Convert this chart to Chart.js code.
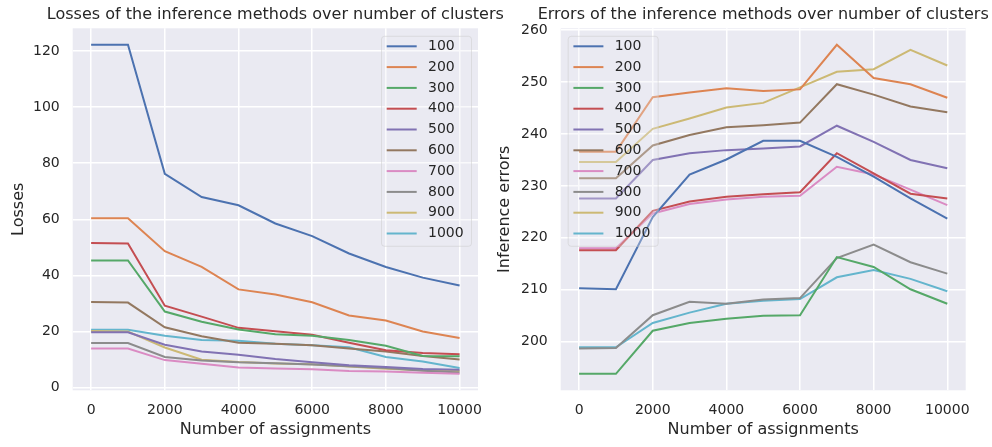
<!DOCTYPE html>
<html>
<head>
<meta charset="utf-8">
<title>Losses and errors over number of clusters</title>
<script src="https://cdn.jsdelivr.net/npm/chart.js@4.4.0/dist/chart.umd.min.js"></script>
<style>
    html, body { margin: 0; padding: 0; background: #ffffff; }
    #wrap { position: relative; width: 992px; height: 447px; overflow: hidden; }
    canvas { position: absolute; top: 0; }
    #loss-chart { left: 0; }
    #error-chart { left: 490px; }
</style>
</head>
<body>
<div id="wrap">
    <canvas id="loss-chart" width="510" height="447"></canvas>
    <canvas id="error-chart" width="502" height="447"></canvas>
</div>
<script>
// x values (number of assignments) and legend labels (number of clusters)
const assignments = [0, 1000, 2000, 3000, 4000, 5000, 6000, 7000, 8000, 9000, 10000];
const clusterCounts = ['100', '200', '300', '400', '500', '600', '700', '800', '900', '1000'];

// tick labels
const xTicks = [0, 2000, 4000, 6000, 8000, 10000];
const lossTicks = [0, 20, 40, 60, 80, 100, 120];
const errorTicks = [200, 210, 220, 230, 240, 250, 260];

// losses per cluster count
const losses100 = [122.2, 122.2, 76.2, 67.9, 65.0, 58.5, 54.0, 47.8, 43.0, 39.2, 36.4];
const losses200 = [60.4, 60.4, 48.6, 43.0, 35.0, 33.2, 30.4, 25.7, 23.9, 20.0, 17.7];
const losses300 = [45.3, 45.3, 27.1, 23.5, 20.7, 19.0, 18.5, 17.0, 14.9, 11.3, 11.2];
const losses400 = [51.5, 51.4, 29.2, 25.3, 21.3, 20.1, 18.8, 16.0, 13.3, 12.3, 11.9];
const losses500 = [19.7, 19.7, 15.3, 12.9, 11.7, 10.2, 9.0, 8.0, 7.3, 6.6, 6.4];
const losses600 = [30.5, 30.3, 21.5, 18.3, 16.0, 15.6, 15.1, 13.9, 12.9, 11.3, 10.0];
const losses700 = [13.9, 13.9, 9.8, 8.5, 7.2, 6.8, 6.5, 5.9, 5.7, 5.3, 4.9];
const losses800 = [15.9, 15.9, 10.9, 9.7, 9.0, 8.7, 8.2, 7.6, 7.0, 6.0, 5.4];
const losses900 = [20.2, 20.0, 14.3, 9.9, 9.1, 8.6, 8.3, 7.5, 6.7, 6.2, 5.9];
const losses1000 = [20.6, 20.6, 18.5, 17.0, 16.7, 15.6, 15.1, 14.4, 10.9, 9.3, 7.0];

// inference errors per cluster count
const errors100 = [210.3, 210.1, 224.0, 232.2, 235.1, 238.7, 238.7, 235.6, 231.8, 227.6, 223.7];
const errors200 = [236.6, 236.6, 247.1, 248.0, 248.8, 248.3, 248.6, 257.2, 250.8, 249.6, 247.0];
const errors300 = [193.8, 193.8, 202.1, 203.6, 204.4, 205.0, 205.1, 216.3, 214.4, 210.1, 207.3];
const errors400 = [217.6, 217.6, 225.2, 227.0, 227.9, 228.4, 228.8, 236.3, 232.4, 228.5, 227.6];
const errors500 = [227.6, 227.6, 235.0, 236.3, 236.9, 237.2, 237.6, 241.6, 238.5, 235.0, 233.4];
const errors600 = [231.5, 231.5, 237.8, 239.8, 241.3, 241.7, 242.2, 249.6, 247.6, 245.3, 244.2];
const errors700 = [218.0, 218.0, 224.7, 226.5, 227.4, 227.9, 228.1, 233.7, 232.2, 229.3, 226.3];
const errors800 = [198.7, 198.8, 205.1, 207.7, 207.3, 208.1, 208.4, 216.1, 218.7, 215.3, 213.1];
const errors900 = [234.6, 234.6, 241.0, 243.0, 245.1, 246.0, 249.0, 252.0, 252.5, 256.2, 253.2];
const errors1000 = [198.9, 198.9, 203.6, 205.6, 207.3, 207.9, 208.2, 212.4, 213.8, 212.1, 209.7];

// seaborn "deep" palette
const lineColors = ['#4c72b0', '#dd8452', '#55a868', '#c44e52', '#8172b3',
                    '#937860', '#da8bc3', '#8c8c8c', '#ccb974', '#64b5cd'];

const FONT = 'DejaVu Sans';
const TEXT_COLOR = '#262626';

document.addEventListener('DOMContentLoaded', () => {
    const lossCanvas = document.getElementById('loss-chart');
    const errorCanvas = document.getElementById('error-chart');

    /**
     * 플롯 영역 배경 (seaborn darkgrid)
     */
    const plotBackground = {
        id: 'plotBackground',
        beforeDraw(chart) {
            const { ctx, chartArea: a } = chart;
            ctx.save();
            ctx.fillStyle = '#eaeaf2';
            ctx.fillRect(a.left, a.top, a.right - a.left, a.bottom - a.top);
            ctx.restore();
        }
    };

    /**
     * 플롯 위 제목 - 플롯 영역 가운데 정렬, 폭 제한 없음
     */
    const axesTitle = {
        id: 'axesTitle',
        afterDraw(chart, args, opts) {
            const { ctx, chartArea: a } = chart;
            ctx.save();
            ctx.font = '16px "' + FONT + '"';
            ctx.fillStyle = TEXT_COLOR;
            ctx.textAlign = 'center';
            ctx.textBaseline = 'middle';
            ctx.fillText(opts.text, (a.left + a.right) / 2, 15);
            ctx.restore();
        }
    };

    /**
     * 플롯 안쪽에 그리는 범례 (matplotlib 스타일, 거의 투명한 박스)
     */
    const insideLegend = {
        id: 'insideLegend',
        afterDatasetsDraw(chart, args, opts) {
            const { ctx, chartArea: a } = chart;
            const w = 90;
            const h = 210;
            const x = opts.side === 'right' ? a.right - 7 - w : a.left + 7;
            const y = a.top + 7.5;

            ctx.save();
            ctx.beginPath();
            ctx.roundRect(x + 0.5, y + 0.5, w, h, 3);
            ctx.fillStyle = 'rgba(234, 234, 242, 0.3)';
            ctx.fill();
            ctx.strokeStyle = 'rgba(204, 204, 204, 0.5)';
            ctx.lineWidth = 1;
            ctx.stroke();

            ctx.font = '14px "' + FONT + '"';
            ctx.textBaseline = 'middle';
            ctx.textAlign = 'left';
            chart.data.datasets.forEach((ds, i) => {
                const cy = y + 10.5 + i * 20.8;
                ctx.beginPath();
                ctx.moveTo(x + 5.7, cy);
                ctx.lineTo(x + 35.7, cy);
                ctx.strokeStyle = ds.borderColor;
                ctx.lineWidth = 2;
                ctx.stroke();
                ctx.fillStyle = TEXT_COLOR;
                ctx.fillText(ds.label, x + 47, cy);
            });
            ctx.restore();
        }
    };

    // matplotlib처럼 데이터 범위에 5% 여백
    function paddedRange(seriesList) {
        const all = seriesList.flat();
        const lo = Math.min(...all);
        const hi = Math.max(...all);
        const m = (hi - lo) * 0.05;
        return { min: lo - m, max: hi + m };
    }

    function buildDatasets(seriesList) {
        return seriesList.map((values, i) => ({
            label: clusterCounts[i],
            data: values.map((v, j) => ({ x: assignments[j], y: v })),
            borderColor: lineColors[i],
            backgroundColor: lineColors[i],
            borderWidth: 2,
            pointRadius: 0,
            tension: 0,
            fill: false
        }));
    }

    function buildOptions(cfg) {
        const range = paddedRange(cfg.series);
        return {
            responsive: false,
            animation: false,
            events: [],
            layout: { padding: { top: 28.3, right: cfg.rightPad, bottom: 0, left: 0 } },
            plugins: {
                legend: { display: false },
                tooltip: { enabled: false },
                title: { display: false },
                axesTitle: { text: cfg.title },
                insideLegend: { side: cfg.legendSide }
            },
            scales: {
                x: {
                    type: 'linear',
                    min: -500,
                    max: 10500,
                    afterBuildTicks: (s) => { s.ticks = xTicks.map(v => ({ value: v })); },
                    afterFit: (s) => { s.height = 56.7; },
                    grid: { color: '#ffffff', lineWidth: 1.5, drawTicks: false },
                    border: { display: false },
                    ticks: {
                        color: TEXT_COLOR,
                        font: { family: FONT, size: 14 },
                        padding: 11.5,
                        maxRotation: 0,
                        autoSkip: false,
                        callback: (v) => String(v)
                    },
                    title: {
                        display: true,
                        text: 'Number of assignments',
                        color: TEXT_COLOR,
                        font: { family: FONT, size: 16 },
                        padding: { top: 0, bottom: 7.4 }
                    }
                },
                y: {
                    type: 'linear',
                    min: range.min,
                    max: range.max,
                    afterBuildTicks: (s) => { s.ticks = cfg.yTicks.map(v => ({ value: v })); },
                    afterFit: (s) => { s.width = cfg.yAxisWidth; },
                    grid: { color: '#ffffff', lineWidth: 1.5, drawTicks: false },
                    border: { display: false },
                    ticks: {
                        color: TEXT_COLOR,
                        font: { family: FONT, size: 14 },
                        padding: 13,
                        autoSkip: false,
                        callback: (v) => String(v)
                    },
                    title: {
                        display: true,
                        text: cfg.yTitle,
                        color: TEXT_COLOR,
                        font: { family: FONT, size: 16 },
                        padding: { top: cfg.yTitlePad, bottom: 0 }
                    }
                }
            }
        };
    }

    const lossSeries = [losses100, losses200, losses300, losses400, losses500,
                        losses600, losses700, losses800, losses900, losses1000];
    const errorSeries = [errors100, errors200, errors300, errors400, errors500,
                         errors600, errors700, errors800, errors900, errors1000];

    // 왼쪽: 손실
    new Chart(lossCanvas, {
        type: 'line',
        data: { datasets: buildDatasets(lossSeries) },
        options: buildOptions({
            series: lossSeries,
            title: 'Losses of the inference methods over number of clusters',
            yTitle: 'Losses',
            yTicks: lossTicks,
            yAxisWidth: 72.7,
            yTitlePad: 9.3,
            rightPad: 32,
            legendSide: 'right'
        }),
        plugins: [plotBackground, insideLegend, axesTitle]
    });

    // 오른쪽: 추론 오류
    new Chart(errorCanvas, {
        type: 'line',
        data: { datasets: buildDatasets(errorSeries) },
        options: buildOptions({
            series: errorSeries,
            title: 'Errors of the inference methods over number of clusters',
            yTitle: 'Inference errors',
            yTicks: errorTicks,
            yAxisWidth: 70.7,
            yTitlePad: 5.7,
            rightPad: 26.3,
            legendSide: 'left'
        }),
        plugins: [plotBackground, insideLegend, axesTitle]
    });
});
</script>
</body>
</html>
